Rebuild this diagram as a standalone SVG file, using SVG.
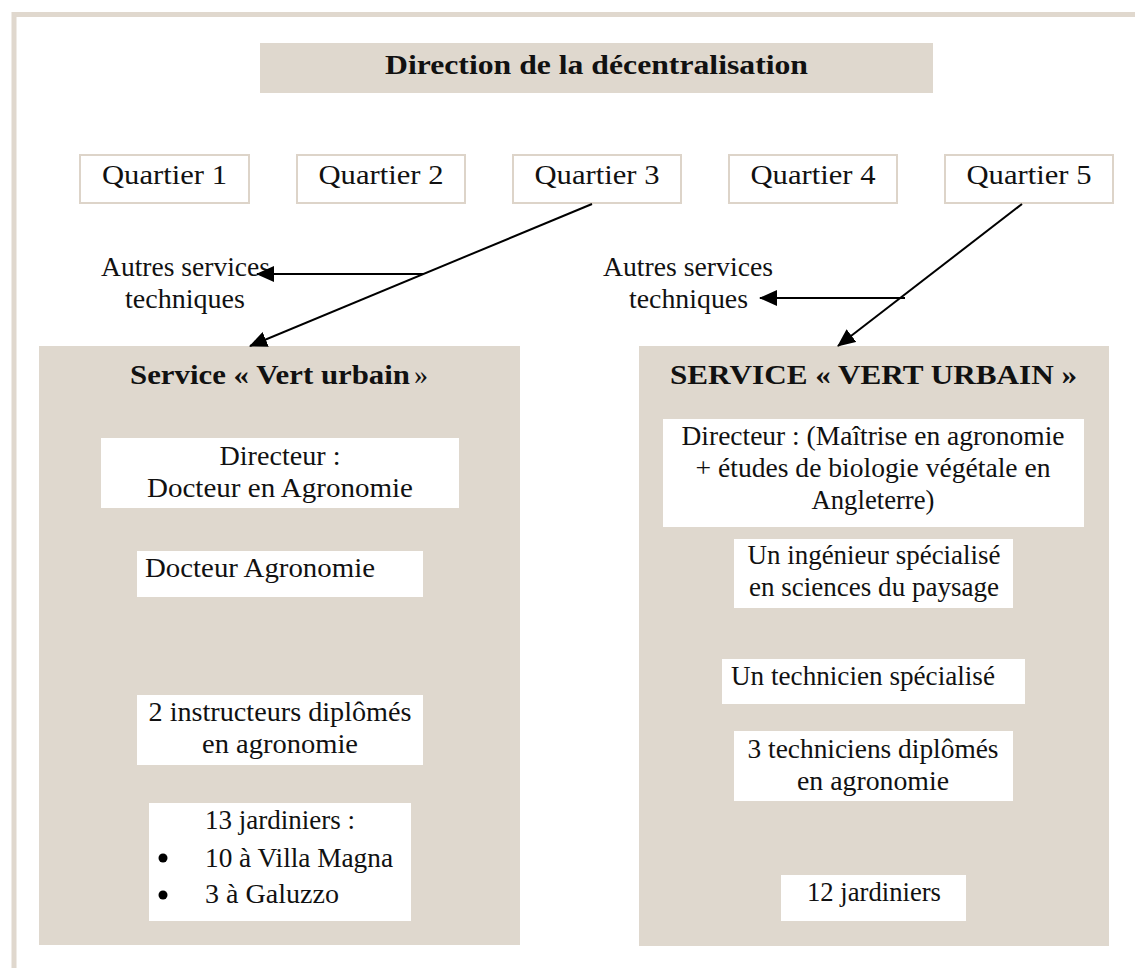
<svg xmlns="http://www.w3.org/2000/svg" width="1135" height="968" viewBox="0 0 1135 968">
<style>
.t{font-family:"Liberation Serif","Times New Roman",serif;font-size:28px;fill:#111}
.b{font-weight:bold;font-size:28px}
.m{text-anchor:middle}
.tan{fill:#DFD8CE}
.wb{fill:#fff}
.q{fill:#fff;stroke:#DDD4C9;stroke-width:2}
.c{stroke:#000;stroke-width:2;fill:none}
</style>
<defs>
<marker id="ah" markerUnits="userSpaceOnUse" markerWidth="18" markerHeight="16" viewBox="0 0 18 16" refX="17" refY="8" orient="auto">
<path d="M0,0 L18,8 L0,16 Z" fill="#000"/>
</marker>
</defs>
<rect width="1135" height="968" fill="#fff"/>
<rect x="14" y="14.5" width="1200" height="1000" fill="none" stroke="#E0D8CE" stroke-width="5"/>

<g id="direction">
<rect class="tan" x="260" y="43" width="673" height="50"/>
<text class="t b m" x="596.5" y="74" textLength="423" lengthAdjust="spacingAndGlyphs">Direction de la décentralisation</text>
</g>

<g id="quartier1"><rect class="q" x="80" y="155" width="169" height="48"/><text class="t m" x="164.5" y="184" textLength="125" lengthAdjust="spacingAndGlyphs">Quartier 1</text></g>
<g id="quartier2"><rect class="q" x="297" y="155" width="168" height="48"/><text class="t m" x="381" y="184" textLength="125" lengthAdjust="spacingAndGlyphs">Quartier 2</text></g>
<g id="quartier3"><rect class="q" x="513" y="155" width="168" height="48"/><text class="t m" x="597" y="184" textLength="125" lengthAdjust="spacingAndGlyphs">Quartier 3</text></g>
<g id="quartier4"><rect class="q" x="729" y="155" width="168" height="48"/><text class="t m" x="813" y="184" textLength="125" lengthAdjust="spacingAndGlyphs">Quartier 4</text></g>
<g id="quartier5"><rect class="q" x="945" y="155" width="168" height="48"/><text class="t m" x="1029" y="184" textLength="125" lengthAdjust="spacingAndGlyphs">Quartier 5</text></g>

<g id="autres1">
<text class="t m" x="185.5" y="276" textLength="169" lengthAdjust="spacingAndGlyphs">Autres services</text>
<text class="t m" x="185" y="308" textLength="120" lengthAdjust="spacingAndGlyphs">techniques</text>
</g>
<g id="autres2">
<text class="t m" x="688" y="276" textLength="170" lengthAdjust="spacingAndGlyphs">Autres services</text>
<text class="t m" x="688.5" y="308" textLength="119" lengthAdjust="spacingAndGlyphs">techniques</text>
</g>

<g id="service1">
<rect class="tan" x="39" y="346" width="481" height="599"/>
<text class="t b" x="130" y="384" textLength="280" lengthAdjust="spacingAndGlyphs">Service « Vert urbain</text>
<text class="t" x="414" y="384">»</text>
<g id="s1-directeur">
<rect class="wb" x="101" y="438" width="358" height="70"/>
<text class="t m" x="280" y="465" textLength="121" lengthAdjust="spacingAndGlyphs">Directeur :</text>
<text class="t m" x="280" y="497" textLength="266" lengthAdjust="spacingAndGlyphs">Docteur en Agronomie</text>
</g>
<g id="s1-docteur">
<rect class="wb" x="137" y="551" width="286" height="46"/>
<text class="t" x="145" y="577" textLength="230" lengthAdjust="spacingAndGlyphs">Docteur Agronomie</text>
</g>
<g id="s1-instructeurs">
<rect class="wb" x="137" y="695" width="286" height="70"/>
<text class="t m" x="280" y="721" textLength="263" lengthAdjust="spacingAndGlyphs">2 instructeurs diplômés</text>
<text class="t m" x="280" y="753" textLength="156" lengthAdjust="spacingAndGlyphs">en agronomie</text>
</g>
<g id="s1-jardiniers">
<rect class="wb" x="149" y="803" width="262" height="118"/>
<text class="t" x="205" y="829" textLength="150" lengthAdjust="spacingAndGlyphs">13 jardiniers :</text>
<circle cx="163" cy="858" r="4.5" fill="#000"/>
<text class="t" x="205" y="867" textLength="188" lengthAdjust="spacingAndGlyphs">10 à Villa Magna</text>
<circle cx="163" cy="895" r="4.5" fill="#000"/>
<text class="t" x="205" y="903" textLength="134" lengthAdjust="spacingAndGlyphs">3 à Galuzzo</text>
</g>
</g>

<g id="service2">
<rect class="tan" x="639" y="346" width="470" height="600"/>
<text class="t b m" x="873.5" y="384" textLength="407" lengthAdjust="spacingAndGlyphs">SERVICE « VERT URBAIN »</text>
<g id="s2-directeur">
<rect class="wb" x="663" y="419" width="421" height="108"/>
<text class="t m" x="873" y="445" textLength="383" lengthAdjust="spacingAndGlyphs">Directeur : (Maîtrise en agronomie</text>
<text class="t m" x="873" y="477" textLength="355" lengthAdjust="spacingAndGlyphs">+ études de biologie végétale en</text>
<text class="t m" x="873" y="509" textLength="123" lengthAdjust="spacingAndGlyphs">Angleterre)</text>
</g>
<g id="s2-ingenieur">
<rect class="wb" x="734" y="539" width="279" height="69"/>
<text class="t m" x="874" y="564" textLength="253" lengthAdjust="spacingAndGlyphs">Un ingénieur spécialisé</text>
<text class="t m" x="874" y="596" textLength="250" lengthAdjust="spacingAndGlyphs">en sciences du paysage</text>
</g>
<g id="s2-technicien">
<rect class="wb" x="722" y="659" width="303" height="45"/>
<text class="t" x="731" y="685" textLength="264" lengthAdjust="spacingAndGlyphs">Un technicien spécialisé</text>
</g>
<g id="s2-techniciens">
<rect class="wb" x="734" y="731" width="279" height="70"/>
<text class="t m" x="873" y="758" textLength="251" lengthAdjust="spacingAndGlyphs">3 techniciens diplômés</text>
<text class="t m" x="873" y="790" textLength="152" lengthAdjust="spacingAndGlyphs">en agronomie</text>
</g>
<g id="s2-jardiniers">
<rect class="wb" x="781" y="875" width="185" height="46"/>
<text class="t m" x="874" y="901" textLength="134" lengthAdjust="spacingAndGlyphs">12 jardiniers</text>
</g>
</g>

<g id="connectors">
<line class="c" x1="592" y1="204" x2="250" y2="346" marker-end="url(#ah)"/>
<line class="c" x1="423" y1="274" x2="257" y2="274" marker-end="url(#ah)"/>
<line class="c" x1="1022" y1="204" x2="838" y2="346" marker-end="url(#ah)"/>
<line class="c" x1="905" y1="298" x2="760" y2="298" marker-end="url(#ah)"/>
</g>
</svg>
